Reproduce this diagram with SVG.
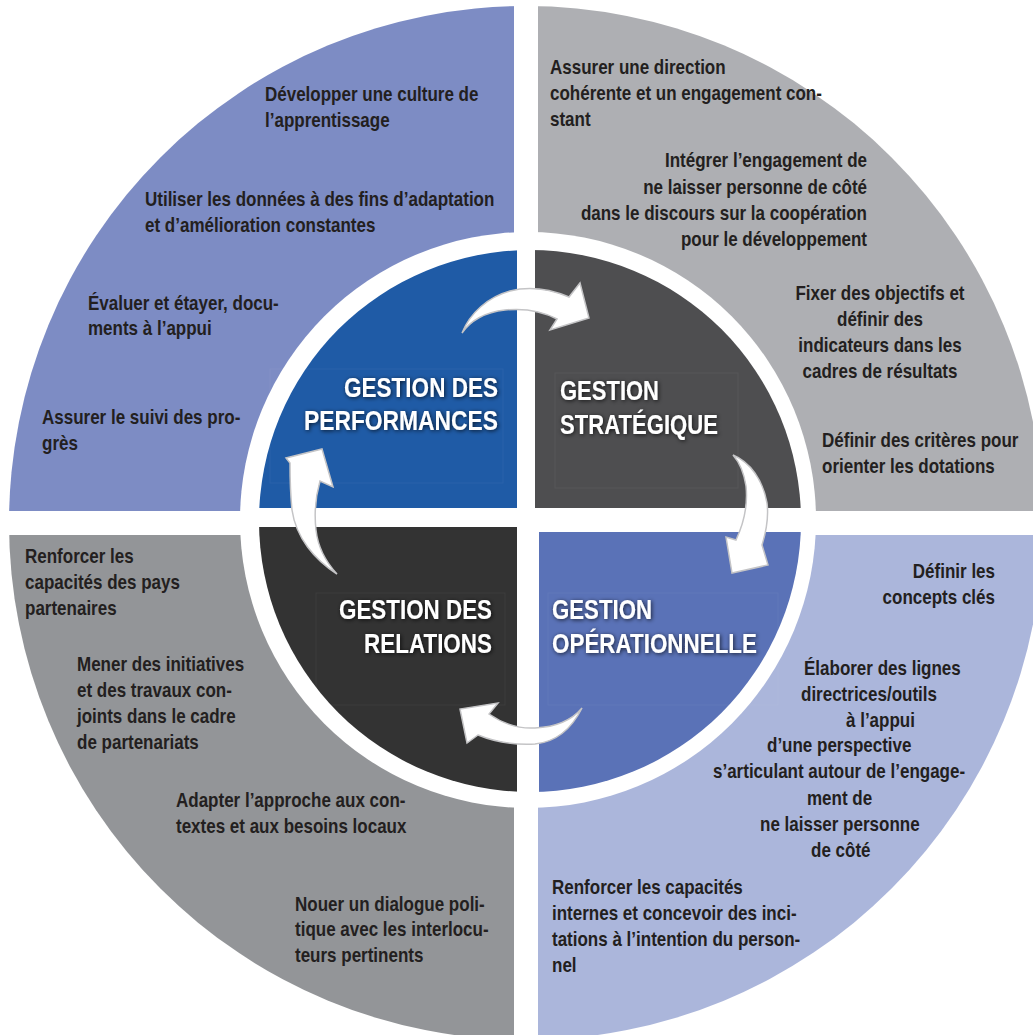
<svg xmlns="http://www.w3.org/2000/svg" width="1033" height="1035" viewBox="0 0 1033 1035">
  <style>
    .body { font-family: "Liberation Sans", Arial, sans-serif; font-weight: bold; font-size: 19.5px; fill: #231f20; }
    .mid { text-anchor: middle; }
    .end { text-anchor: end; }
    .title { font-family: "Liberation Sans", Arial, sans-serif; font-weight: bold; font-size: 28px; fill: #ffffff; filter: url(#halo); }
    .frame { fill: none; stroke: #ffffff; stroke-opacity: 0.05; stroke-width: 1; }
    .arrow { fill: #ffffff; stroke: #c4c4c6; stroke-width: 1.5; stroke-linejoin: miter; }
  </style>
  <defs>
    <!-- outer ring: big disc minus the white disc behind the core -->
    <mask id="ringMask" maskUnits="userSpaceOnUse" x="0" y="0" width="1033" height="1035">
      <circle cx="526" cy="523" r="517" fill="#fff"/>
      <circle cx="528" cy="520" r="288" fill="#000"/>
    </mask>
    <clipPath id="coreClip">
      <circle cx="530" cy="521" r="271"/>
    </clipPath>
    <filter id="halo" x="-20%" y="-40%" width="140%" height="180%">
      <feGaussianBlur in="SourceAlpha" stdDeviation="2"/>
      <feOffset dx="1" dy="1" result="b"/>
      <feFlood flood-color="#000" flood-opacity="0.75"/>
      <feComposite in2="b" operator="in"/>
      <feMerge>
        <feMergeNode/>
        <feMergeNode in="SourceGraphic"/>
      </feMerge>
    </filter>
  </defs>

  <rect width="1033" height="1035" fill="#ffffff"/>

  <!-- Gestion des performances (top left) -->
  <g id="performances">
    <rect x="0" y="0" width="514" height="511" fill="#7d8cc4" mask="url(#ringMask)"/>
    <rect x="0" y="0" width="517" height="508" fill="#1f5ba6" clip-path="url(#coreClip)"/>
    <rect class="frame" x="270" y="369" width="233" height="114"/>
    <text class="title" x="344" y="397" textLength="154" lengthAdjust="spacingAndGlyphs">GESTION DES</text>
    <text class="title" x="304" y="430" textLength="194" lengthAdjust="spacingAndGlyphs">PERFORMANCES</text>
    <text class="body" transform="translate(265,101) scale(0.872,1)">Développer une culture de</text>
    <text class="body" transform="translate(265,127) scale(0.872,1)">l’apprentissage</text>
    <text class="body" transform="translate(145,206) scale(0.872,1)">Utiliser les données à des fins d’adaptation</text>
    <text class="body" transform="translate(145,232) scale(0.872,1)">et d’amélioration constantes</text>
    <text class="body" transform="translate(88,310) scale(0.872,1)">Évaluer et étayer, docu-</text>
    <text class="body" transform="translate(88,335) scale(0.872,1)">ments à l’appui</text>
    <text class="body" transform="translate(42,424) scale(0.872,1)">Assurer le suivi des pro-</text>
    <text class="body" transform="translate(42,450) scale(0.872,1)">grès</text>
  </g>

  <!-- Gestion stratégique (top right) -->
  <g id="strategique">
    <rect x="538" y="0" width="495" height="511" fill="#aeafb3" mask="url(#ringMask)"/>
    <rect x="535" y="0" width="498" height="508" fill="#4e4e50" clip-path="url(#coreClip)"/>
    <rect class="frame" x="555" y="373" width="183" height="115"/>
    <text class="title" x="560" y="400" textLength="99" lengthAdjust="spacingAndGlyphs">GESTION</text>
    <text class="title" x="560" y="434" textLength="158" lengthAdjust="spacingAndGlyphs">STRATÉGIQUE</text>
    <text class="body" transform="translate(550,74) scale(0.872,1)">Assurer une direction</text>
    <text class="body" transform="translate(550,100) scale(0.872,1)">cohérente et un engagement con-</text>
    <text class="body" transform="translate(550,126) scale(0.872,1)">stant</text>
    <text class="body end" transform="translate(867,167) scale(0.872,1)">Intégrer l’engagement de</text>
    <text class="body end" transform="translate(867,194) scale(0.872,1)">ne laisser personne de côté</text>
    <text class="body end" transform="translate(867,220) scale(0.872,1)">dans le discours sur la coopération</text>
    <text class="body end" transform="translate(867,246) scale(0.872,1)">pour le développement</text>
    <text class="body mid" transform="translate(880,300) scale(0.872,1)">Fixer des objectifs et</text>
    <text class="body mid" transform="translate(880,326) scale(0.872,1)">définir des</text>
    <text class="body mid" transform="translate(880,352) scale(0.872,1)">indicateurs dans les</text>
    <text class="body mid" transform="translate(880,378) scale(0.872,1)">cadres de résultats</text>
    <text class="body" transform="translate(822,447) scale(0.872,1)">Définir des critères pour</text>
    <text class="body" transform="translate(822,473) scale(0.872,1)">orienter les dotations</text>
  </g>

  <!-- Gestion opérationnelle (bottom right) -->
  <g id="operationnelle">
    <rect x="538" y="535" width="495" height="500" fill="#abb6db" mask="url(#ringMask)"/>
    <rect x="539" y="532" width="494" height="503" fill="#5a72b7" clip-path="url(#coreClip)"/>
    <rect class="frame" x="548" y="593" width="230" height="112"/>
    <text class="title" x="552" y="619" textLength="100" lengthAdjust="spacingAndGlyphs">GESTION</text>
    <text class="title" x="552" y="653" textLength="205" lengthAdjust="spacingAndGlyphs">OPÉRATIONNELLE</text>
    <text class="body end" transform="translate(995,578) scale(0.872,1)">Définir les</text>
    <text class="body end" transform="translate(995,604) scale(0.872,1)">concepts clés</text>
    <text class="body" transform="translate(804,675) scale(0.872,1)">Élaborer des lignes</text>
    <text class="body" transform="translate(801,701) scale(0.872,1)">directrices/outils</text>
    <text class="body" transform="translate(846,727) scale(0.872,1)">à l’appui</text>
    <text class="body" transform="translate(767,752) scale(0.872,1)">d’une perspective</text>
    <text class="body" transform="translate(713,778) scale(0.872,1)">s’articulant autour de l’engage-</text>
    <text class="body" transform="translate(807,805) scale(0.872,1)">ment de</text>
    <text class="body" transform="translate(760,831) scale(0.872,1)">ne laisser personne</text>
    <text class="body" transform="translate(811,857) scale(0.872,1)">de côté</text>
    <text class="body" transform="translate(552,894) scale(0.872,1)">Renforcer les capacités</text>
    <text class="body" transform="translate(552,920) scale(0.872,1)">internes et concevoir des inci-</text>
    <text class="body" transform="translate(552,946) scale(0.872,1)">tations à l’intention du person-</text>
    <text class="body" transform="translate(552,972) scale(0.872,1)">nel</text>
  </g>

  <!-- Gestion des relations (bottom left) -->
  <g id="relations">
    <rect x="0" y="535" width="514" height="500" fill="#939598" mask="url(#ringMask)"/>
    <rect x="0" y="527" width="517" height="508" fill="#333333" clip-path="url(#coreClip)"/>
    <rect class="frame" x="316" y="593" width="189" height="112"/>
    <text class="title" x="339" y="619" textLength="153" lengthAdjust="spacingAndGlyphs">GESTION DES</text>
    <text class="title" x="364" y="653" textLength="128" lengthAdjust="spacingAndGlyphs">RELATIONS</text>
    <text class="body" transform="translate(25,563) scale(0.872,1)">Renforcer les</text>
    <text class="body" transform="translate(25,589) scale(0.872,1)">capacités des pays</text>
    <text class="body" transform="translate(25,615) scale(0.872,1)">partenaires</text>
    <text class="body" transform="translate(77,671) scale(0.872,1)">Mener des initiatives</text>
    <text class="body" transform="translate(77,697) scale(0.872,1)">et des travaux con-</text>
    <text class="body" transform="translate(77,723) scale(0.872,1)">joints dans le cadre</text>
    <text class="body" transform="translate(77,749) scale(0.872,1)">de partenariats</text>
    <text class="body" transform="translate(176,807) scale(0.872,1)">Adapter l’approche aux con-</text>
    <text class="body" transform="translate(176,833) scale(0.872,1)">textes et aux besoins locaux</text>
    <text class="body" transform="translate(295,911) scale(0.872,1)">Nouer un dialogue poli-</text>
    <text class="body" transform="translate(295,936) scale(0.872,1)">tique avec les interlocu-</text>
    <text class="body" transform="translate(295,962) scale(0.872,1)">teurs pertinents</text>
  </g>

  <!-- clockwise cycle arrows -->
  <g id="connectors">
    <path class="arrow" d="M462,333 C470,313 488,297 510,291 C530,286 552,290 569,297 L580,283 L589,318 L550,330 L557,319 C542,311 525,308 505,310 C485,312 470,321 462,333 Z"/>
    <path class="arrow" d="M733,455 C750,462 763,480 767,503 C769,518 766,532 762,545 L768,565 L732,573 L726,537 L736,540 C743,525 748,505 746,486 C744,473 740,463 733,455 Z"/>
    <path class="arrow" d="M582,708 C572,720 555,727 535,728 C518,729 502,723 489,714 L498,703 L460,709 L467,743 L478,735 C495,742 515,745 535,744 C556,742 572,728 582,708 Z"/>
    <path class="arrow" d="M337,574 C315,560 296,538 292,510 C290,490 290,475 290,463 L286,458 L322,449 L333,487 L320,481 C316,495 314,512 316,530 C318,548 326,562 337,574 Z"/>
  </g>
</svg>
